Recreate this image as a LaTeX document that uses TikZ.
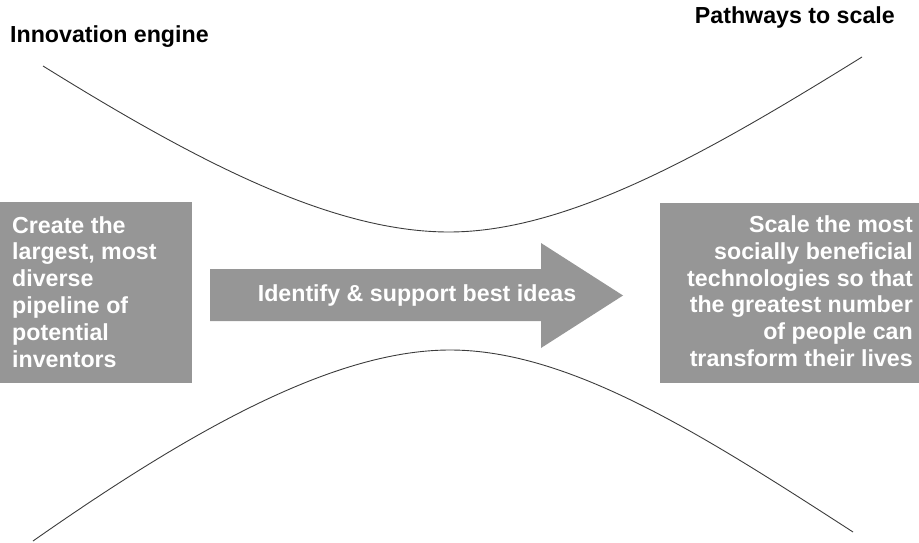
\documentclass[tikz,border=0pt]{standalone}
\usepackage{fontspec}
\setmainfont{Liberation Sans}
\definecolor{boxgray}{RGB}{150,150,150}
\definecolor{curvegray}{RGB}{60,60,60}
\tikzset{
  graybox/.style={fill=boxgray, draw=none, inner sep=0pt, anchor=north west},
  boxtext/.style={text=white, inner sep=0pt, font=\fontsize{23.2}{26.8}\selectfont\bfseries},
  titletext/.style={text=black, inner sep=0pt, font=\fontsize{23.2}{26.8}\selectfont\bfseries},
  funnel/.style={draw=curvegray, line width=0.9pt}
}
\begin{document}
\begin{tikzpicture}[x=1pt,y=-1pt]
\useasboundingbox (0,0) rectangle (919,543);
% curves
\draw[funnel] (43,66) .. controls (193,159) and (330,232) .. (449,232)
  .. controls (570,232) and (712,150) .. (862,57);
\draw[funnel] (33,541) .. controls (183,436) and (330,350) .. (450,350)
  .. controls (570,350) and (703,435) .. (853,532);
% titles
\node[titletext, anchor=base west] (tl) at (10,43) {Innovation engine};
\node[titletext, anchor=base east] (tr) at (895,24) {Pathways to scale};
% boxes
\node[graybox, minimum width=192pt, minimum height=181pt] (lbox) at (0,202) {};
\node[graybox, minimum width=259pt, minimum height=180pt] (rbox) at (660,203) {};
\node[boxtext, anchor=north west, align=left] (ltext) at (12,216)
  {Create the\\largest, most\\diverse\\pipeline of\\potential\\inventors};
\node[boxtext, anchor=north east, align=right] (rtext) at (913,215.5)
  {Scale the most\\socially beneficial\\technologies so that\\the greatest number\\of people can\\transform their lives};
% arrow
\fill[boxgray] (210,269) -- (541,269) -- (541,243) -- (623,295.5) -- (541,348)
  -- (541,321) -- (210,321) -- cycle;
\node[boxtext] (atext) at (417,295) {Identify \& support best ideas};
\end{tikzpicture}
\end{document}
